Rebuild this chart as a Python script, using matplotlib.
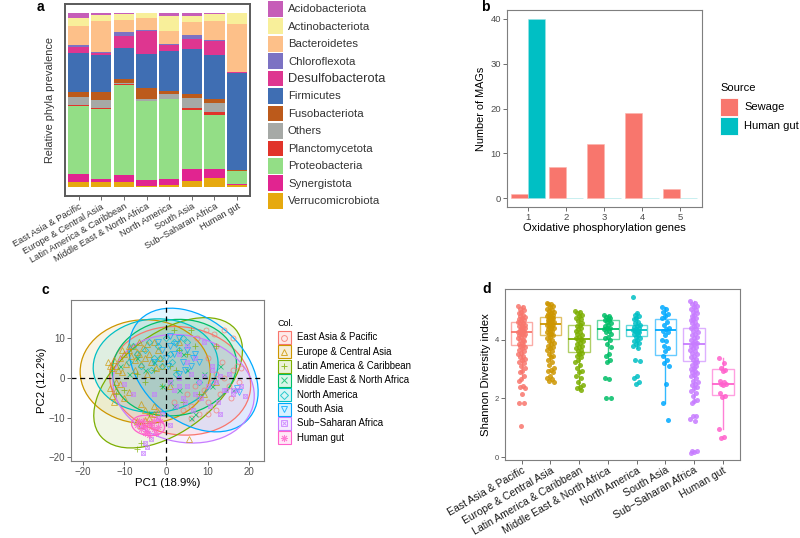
import numpy as np
import matplotlib
matplotlib.use('Agg')
import matplotlib.pyplot as plt
from matplotlib.patches import Ellipse, Rectangle
from matplotlib.lines import Line2D

plt.rcParams['font.family'] = ['Liberation Sans', 'DejaVu Sans']

W, H = 800, 538

# ---------------- data ----------------
regions = ['East Asia & Pacific', 'Europe & Central Asia', 'Latin America & Caribbean',
           'Middle East & North Africa', 'North America', 'South Asia',
           'Sub-Saharan Africa', 'Human gut']
region_colors = ['#F8766D', '#CD9600', '#7CAE00', '#00BE67', '#00BFC4', '#00A9FF', '#C77CFF', '#FF61CC']

# panel a: relative phyla prevalence per region (top of stack first)
phyla = ['Acidobacteriota', 'Actinobacteriota', 'Bacteroidetes', 'Chloroflexota',
         'Desulfobacterota', 'Firmicutes', 'Fusobacteriota', 'Others',
         'Planctomycetota', 'Proteobacteria', 'Synergistota', 'Verrucomicrobiota']
phyla_colors = ['#C65DB8', '#F8EF9A', '#FDC089', '#7C72C3', '#DE3690', '#3F6EB3',
                '#BC5A1B', '#A6A9A6', '#E1342A', '#93DE86', '#E12490', '#E6A90F']
acido    = [0.032, 0.011, 0.010, 0.000, 0.017, 0.021, 0.008, 0.000]
actino   = [0.046, 0.038, 0.029, 0.030, 0.088, 0.032, 0.042, 0.063]
bactero  = [0.110, 0.175, 0.074, 0.070, 0.072, 0.076, 0.105, 0.276]
chloro   = [0.008, 0.006, 0.021, 0.006, 0.010, 0.023, 0.008, 0.000]
desulfo  = [0.038, 0.015, 0.069, 0.128, 0.032, 0.057, 0.078, 0.008]
firmic   = [0.219, 0.208, 0.175, 0.200, 0.230, 0.259, 0.251, 0.554]
fuso     = [0.034, 0.048, 0.025, 0.061, 0.019, 0.019, 0.027, 0.004]
others   = [0.046, 0.044, 0.008, 0.010, 0.027, 0.061, 0.050, 0.000]
plancto  = [0.004, 0.008, 0.006, 0.000, 0.000, 0.008, 0.015, 0.000]
proteo   = [0.392, 0.402, 0.514, 0.453, 0.457, 0.337, 0.312, 0.078]
synerg   = [0.042, 0.017, 0.040, 0.036, 0.032, 0.070, 0.050, 0.002]
verruco  = [0.032, 0.029, 0.030, 0.006, 0.015, 0.036, 0.055, 0.015]
phyla_vals = [acido, actino, bactero, chloro, desulfo, firmic, fuso, others,
              plancto, proteo, synerg, verruco]

# panel b
ox_genes = [1, 2, 3, 4, 5]
sewage_mags = [1, 7, 12, 19, 2]
gut_mags = [40, 0, 0, 0, 0]

# panel c: PCA points per region
pca_x = {
    'East Asia & Pacific': [5, 6, 7, 8, 9, 10, 11, 12, 13, 14, 15, 16, 17, 18, 7.5, 9.5, 11.5, 13.5,
                            15.5, 17.5, 2, 4, 6, 8, 10, 12, 14, 16, 10, 12, -2, -4],
    'Europe & Central Asia': [-14, -13.5, -13, -12.5, -12, -12, -11.5, -11, -10.5, -10, -9.5, -9, -8.5,
                              -8, -7.5, -7, -6.5, -6, -5.5, -5, -4.5, -4, -3.5, -3, -2.5, -2, -1.5, -1,
                              -13.5, -13, -12.5, -12, -11, -10, -9, -6, -5, -4, -3, -7, -6, -5, -2, 1,
                              5.5, 9, 12, 3, -3, -9, -7.5, -10.5, -4.5, -6.5],
    'Latin America & Caribbean': [-7, -5, -3, -1, 1, 2, 3, 5, 7, 8, 6, -10, -12, 4, 2.5, -4, 12, -7, -6],
    'Middle East & North Africa': [-11, -9, -7, -5, -3, 1, 3, 5, 7, 9, 11, 13, 2, -1, 4, 6, 16],
    'North America': [-9, -7, -5, -4, -3, -2, -1, 0, 1, 2, 3, 4, -6, -8, -3.5, 1.5, 2.5, -1.5, 5, 8],
    'South Asia': [-2, -1, 0, 1, 2, 3, 4, 5, 6, 7, -3, 0.5, 2.5, 4.5, 6.5, 1, 3, 17, 17.5, 8],
    'Sub-Saharan Africa': [1, 2, 3, 4, 5, 6, 7, 8, 9, 10, 11, 12, 13, 14, 15, 16, 17, 18, 19, 2.5, 4.5,
                           6.5, 8.5, 10.5, 12.5, 14.5, 3, 5, 7, 9, 11, 13, 16, -1, -3, -2, 1, 3, 5,
                           -5, -4.5, -5.5, -3.5, -10, -8],
    'Human gut': [-7, -6, -5.5, -5, -4.5, -4, -3.5, -3, -2.5, -6.5, -5, -4, -3, -2, -1.5, -5.5],
}
pca_y = {
    'East Asia & Pacific': [-4, -7, -2, -9, -3, -6, -1, -8, -4, 0, -2, 2, 3, 2.5, 10, 12, 11, 4, -5, -1,
                            -6, -8, -10, -5, -9, 8, 12, 10, 5, 1, -8, -12],
    'Europe & Central Asia': [4, 3, 2.5, 4.5, 3, -1, 2, 5, 1.5, 6, 3.5, 7, 5.5, 8, 4.5, 6.5, 9, 3.5, 7.5,
                              5, 8.5, 6, 4, 9, 2.5, 7, 5, 3, -2.5, -4.5, -6, -3, -1.5, -5, -3.5, -6.5,
                              -8, -10, -9, -11, -12, -10.5, -8.5, -2, -15.5, -4, -1, 9, -7, 8, 2, 7,
                              1, 6],
    'Latin America & Caribbean': [1, -1, 2, -2, 3, 12, 7, 6, 8, -4, 12, -3, -4, -6, 2, -9, 8, -18, -16.5],
    'Middle East & North Africa': [3, 1, 5, 2, 4, -1, -3, 2, -9, 1, -2, 3, -7, -2, 6, -10, -3],
    'North America': [4, 6, 7, 9, 5, 8, 3, 10, 6, 9, 7, 10, 3, 8, 2, 4, 1, 5, 9, -1],
    'South Asia': [9, 7, 5, 8, 6, 10, 4, 7, 3, 6, 4, 3, 8.5, 2, 5, 10.5, 1, -2.5, -3.5, 4],
    'Sub-Saharan Africa': [-1, -3, 0, -5, -2, 1, -4, -1, 0.5, -2, 2, -1, 0.5, -3, 1, -4, -3, -2, -4.5,
                           -7, -6, -8, -5, -7, -6, -3, 6, 8, 5, 9, 3, -9, -3, -9, -4, -10, -12, -2,
                           4, -16.5, -17.5, -19, -15.5, -1.5, -4],
    'Human gut': [-12, -13, -11, -12.5, -13.5, -11.5, -12, -13, -14, -11, -14, -14.5, -11, -12.5, -11, -12],
}
# ellipse summary per region (centre, full width, full height, angle)
ell_cx = [3.4, -5.0, 0.5, 2.0, -2.5, 6.6, 4.2, -4.3]
ell_cy = [-0.8, 1.5, -1.3, 2.5, 3.0, 1.9, -2.8, -12.0]
ell_w = [34, 31.2, 42, 30, 30, 36, 34.4, 8]
ell_h = [27, 26, 24, 24, 23.4, 25, 26.6, 5]
ell_ang = [-10, 0, 40, 10, 5, -45, -15, -10]

# panel d: Shannon diversity per region
shannon = {
    'East Asia & Pacific': [5.15, 5.1, 5.05, 5.0, 4.95, 4.9, 4.85, 4.8, 4.78, 4.75, 4.7, 4.68, 4.65, 4.6,
                            4.58, 4.55, 4.5, 4.48, 4.45, 4.42, 4.4, 4.38, 4.35, 4.32, 4.3, 4.28, 4.27,
                            4.25, 4.22, 4.2, 4.18, 4.15, 4.12, 4.1, 4.05, 4.0, 3.98, 3.95, 3.9, 3.85,
                            3.82, 3.8, 3.75, 3.7, 3.65, 3.6, 3.55, 3.5, 3.45, 3.4, 3.35, 3.3, 3.25, 3.2,
                            3.1, 3.05, 2.95, 2.9, 2.75, 2.65, 2.6, 2.42, 2.38, 2.35, 2.15, 1.85, 1.83, 1.05],
    'Europe & Central Asia': [5.25, 5.22, 5.2, 5.15, 5.1, 5.05, 5.0, 4.98, 4.95, 4.9, 4.88, 4.85, 4.82,
                              4.8, 4.78, 4.75, 4.72, 4.7, 4.68, 4.65, 4.62, 4.6, 4.58, 4.55, 4.53, 4.5,
                              4.48, 4.45, 4.42, 4.4, 4.38, 4.35, 4.3, 4.28, 4.25, 4.2, 4.18, 4.15, 4.1,
                              4.05, 4.0, 3.95, 3.9, 3.85, 3.8, 3.75, 3.7, 3.65, 3.6, 3.5, 3.45, 3.4, 3.3,
                              3.25, 3.15, 3.05, 2.98, 2.95, 2.9, 2.75, 2.7, 2.65, 2.58, 2.55],
    'Latin America & Caribbean': [4.97, 4.95, 4.9, 4.85, 4.8, 4.75, 4.7, 4.62, 4.55, 4.5, 4.45, 4.4, 4.35,
                                  4.3, 4.25, 4.2, 4.15, 4.1, 4.05, 4.02, 4.0, 3.95, 3.9, 3.85, 3.8, 3.75,
                                  3.7, 3.65, 3.6, 3.55, 3.5, 3.45, 3.4, 3.3, 3.25, 3.15, 3.05, 2.95, 2.9,
                                  2.75, 2.7, 2.55, 2.45, 2.4, 2.35, 2.3],
    'Middle East & North Africa': [4.85, 4.8, 4.78, 4.75, 4.7, 4.68, 4.65, 4.6, 4.55, 4.5, 4.45, 4.4,
                                   4.38, 4.35, 4.3, 4.25, 4.2, 4.1, 4.05, 4.0, 3.85, 3.75, 3.5, 3.45,
                                   3.3, 3.25, 2.68, 2.66, 2.03, 2.02],
    'North America': [5.45, 4.9, 4.85, 4.8, 4.75, 4.7, 4.6, 4.55, 4.5, 4.45, 4.42, 4.4, 4.35, 4.32, 4.3,
                      4.28, 4.25, 4.22, 4.2, 4.15, 4.1, 4.05, 4.0, 3.95, 3.9, 3.85, 3.8, 3.7, 3.3, 3.28,
                      2.75, 2.68, 2.55, 2.5],
    'South Asia': [5.1, 5.05, 4.95, 4.88, 4.8, 4.72, 4.6, 4.5, 4.4, 4.35, 4.3, 4.25, 4.15, 4.0, 3.95, 3.8,
                   3.72, 3.6, 3.45, 3.3, 3.2, 3.1, 2.5, 1.85, 1.28],
    'Sub-Saharan Africa': [5.3, 5.25, 5.2, 5.15, 5.1, 5.05, 5.0, 4.95, 4.9, 4.85, 4.8, 4.75, 4.7, 4.65,
                           4.6, 4.55, 4.5, 4.45, 4.4, 4.35, 4.3, 4.25, 4.2, 4.15, 4.1, 4.05, 4.0, 3.95,
                           3.9, 3.87, 3.85, 3.8, 3.75, 3.7, 3.65, 3.6, 3.55, 3.5, 3.45, 3.4, 3.35, 3.3,
                           3.25, 3.2, 3.15, 3.1, 3.05, 3.0, 2.95, 2.9, 2.85, 2.8, 2.75, 2.7, 2.6, 2.55,
                           2.5, 2.45, 2.4, 2.35, 2.25, 2.2, 2.1, 1.95, 1.9, 1.85, 1.42, 1.4, 1.3, 1.25,
                           0.22, 0.2, 0.18, 0.16],
    'Human gut': [3.37, 3.22, 3.02, 2.98, 2.95, 2.6, 2.55, 2.5, 2.48, 2.45, 2.2, 2.1, 2.05, 0.98, 0.68, 0.67],
}
# box summaries
box_q1 = [3.81, 4.17, 3.58, 4.03, 4.12, 3.49, 3.29, 2.13]
box_med = [4.27, 4.53, 4.02, 4.36, 4.31, 4.33, 3.86, 2.49]
box_q3 = [4.60, 4.76, 4.51, 4.65, 4.49, 4.71, 4.41, 2.99]
box_lo = [2.65, 3.30, 2.30, 3.25, 3.70, 1.85, 1.85, 0.98]
box_hi = [5.15, 5.25, 4.97, 4.85, 4.90, 5.10, 5.30, 3.37]

TICK_C = '#4D4D4D'
SPINE_C = '#7F7F7F'


def fx(x):
    return x / W


def fy(y):
    return 1 - y / H


def rect(l, t, r, b):
    return [fx(l), fy(b), (r - l) / W, (b - t) / H]


def style_axis(ax, tsize):
    for s in ax.spines.values():
        s.set_color(SPINE_C)
        s.set_linewidth(0.8)
    ax.tick_params(length=2.8, width=0.5, color='#333333', labelcolor=TICK_C,
                   labelsize=tsize, pad=1.5)


fig = plt.figure(figsize=(8, 5.38), dpi=100)

# ---------------- panel a ----------------
axa = fig.add_axes(rect(65, 4, 250, 196))
xpos = np.arange(len(regions))
vals = np.array(phyla_vals)
vals = vals / vals.sum(axis=0)
bottom = np.zeros(len(regions))
for name, col, v in reversed(list(zip(phyla, phyla_colors, vals))):
    axa.bar(xpos, v, bottom=bottom, width=0.9, color=col, linewidth=0)
    bottom += v
axa.set_xlim(-0.6, 7.57)
axa.set_ylim(-0.05, 1.05)
axa.set_yticks([])
axa.set_xticks(xpos)
axa.set_xticklabels([r.replace('Sub-Saharan', 'Sub\u2212Saharan') for r in regions],
                    rotation=30, ha='right', va='top', rotation_mode='anchor')
style_axis(axa, 6.7)
axa.tick_params(axis='x', labelcolor='#333333')
for s in axa.spines.values():
    s.set_color('#5A5A5A')
    s.set_linewidth(1.4)
axa.set_ylabel('Relative phyla prevalence', fontsize=7.8, color='#333333', labelpad=7)

for i, (name, col) in enumerate(zip(phyla, phyla_colors)):
    t = 1 + i * 17.45
    fig.add_artist(Rectangle((fx(267.5), fy(t + 15.7)), 15.3 / W, 15.7 / H,
                             transform=fig.transFigure, facecolor=col, edgecolor='none'))
    fig.text(fx(288), fy(t + 8.2), name, fontsize=9.3 if name == 'Desulfobacterota' else 8.2,
             va='center', ha='left', color='#333333')

# ---------------- panel b ----------------
axb = fig.add_axes(rect(507, 10, 702, 207))
gx = np.array(ox_genes)
axb.bar(gx - 0.225, sewage_mags, width=0.45, color='#F8766D', edgecolor='#FBB3AD', linewidth=0.4)
axb.bar(gx + 0.225, gut_mags, width=0.45, color='#00BFC4', edgecolor='#9FE3E5', linewidth=0.4)
axb.set_xlim(0.44, 5.58)
axb.set_ylim(-2, 42)
axb.set_yticks([0, 10, 20, 30, 40])
axb.set_xticks(ox_genes)
style_axis(axb, 6.8)
axb.set_xlabel('Oxidative phosphorylation genes', fontsize=8, labelpad=1)
axb.set_ylabel('Number of MAGs', fontsize=7.8, labelpad=3)

fig.text(fx(720), fy(88), 'Source', fontsize=8, va='center', ha='left')
for i, (lab, col) in enumerate([('Sewage', '#F8766D'), ('Human gut', '#00BFC4')]):
    t = 98 + i * 19
    fig.add_artist(Rectangle((fx(720), fy(t + 18)), 18 / W, 18 / H,
                             transform=fig.transFigure, facecolor=col, edgecolor='white', linewidth=0.6))
    fig.text(fx(744), fy(t + 9), lab, fontsize=8, va='center', ha='left')

# ---------------- panel c ----------------
axc = fig.add_axes(rect(71, 300, 264, 461))
markers = ['o', '^', '+', 'x', 'D', 'v', 's', (8, 2, 0)]
msizes = [3.6, 3.8, 4.2, 3.6, 3.2, 3.8, 3.4, 4.4]
for i, reg in enumerate(regions):
    col = region_colors[i]
    axc.add_patch(Ellipse((ell_cx[i], ell_cy[i]), ell_w[i], ell_h[i], angle=ell_ang[i],
                          facecolor=col, alpha=0.1, edgecolor='none'))
for i, reg in enumerate(regions):
    col = region_colors[i]
    mk = markers[i]
    axc.plot(pca_x[reg], pca_y[reg], linestyle='none', marker=mk, markersize=msizes[i],
             markerfacecolor='none', markeredgecolor=col, markeredgewidth=0.6, alpha=0.75)
    if reg == 'Sub-Saharan Africa':
        axc.plot(pca_x[reg], pca_y[reg], linestyle='none', marker='x', markersize=2.6,
                 markeredgecolor=col, markeredgewidth=0.6, alpha=0.75)
for i, reg in enumerate(regions):
    axc.add_patch(Ellipse((ell_cx[i], ell_cy[i]), ell_w[i], ell_h[i], angle=ell_ang[i],
                          facecolor='none', edgecolor=region_colors[i], linewidth=0.9))
axc.axhline(0, color='black', linestyle=(0, (4, 3)), linewidth=0.9)
axc.axvline(0, color='black', linestyle=(0, (4, 3)), linewidth=0.9)
axc.set_xlim(-22.8, 23.5)
axc.set_ylim(-20.9, 19.45)
axc.set_xticks([-20, -10, 0, 10, 20])
axc.set_yticks([-20, -10, 0, 10])
style_axis(axc, 7)
axc.set_xlabel('PC1 (18.9%)', fontsize=8.2, labelpad=1)
axc.set_ylabel('PC2 (12.2%)', fontsize=8.2, labelpad=1)

fig.text(fx(278), fy(323), 'Col.', fontsize=6.5, va='center', ha='left')
for i, reg in enumerate(regions):
    cy = 337.5 + i * 14.3
    col = region_colors[i]
    fig.add_artist(Rectangle((fx(277.5), fy(cy + 6.5)), 13 / W, 13 / H, transform=fig.transFigure,
                             facecolor=col, alpha=0.15, edgecolor='none'))
    fig.add_artist(Rectangle((fx(277.5), fy(cy + 6.5)), 13 / W, 13 / H, transform=fig.transFigure,
                             facecolor='none', edgecolor=col, linewidth=0.8))
    fig.add_artist(Line2D([fx(284)], [fy(cy)], transform=fig.transFigure, marker=markers[i],
                          markersize=msizes[i] + 0.6, markerfacecolor='none', markeredgecolor=col,
                          markeredgewidth=0.7, alpha=0.8))
    if reg == 'Sub-Saharan Africa':
        fig.add_artist(Line2D([fx(284)], [fy(cy)], transform=fig.transFigure, marker='x',
                              markersize=3, markeredgecolor=col, markeredgewidth=0.7, alpha=0.8))
    fig.text(fx(297), fy(cy), reg.replace('Sub-Saharan', 'Sub\u2212Saharan'), fontsize=6.9,
             va='center', ha='left')

# ---------------- panel d ----------------
axd = fig.add_axes(rect(505, 289, 740, 460))
stats = []
for i in range(len(regions)):
    stats.append(dict(med=box_med[i], q1=box_q1[i], q3=box_q3[i],
                      whislo=box_lo[i], whishi=box_hi[i], fliers=[]))
pos = np.arange(1, len(regions) + 1)
bp = axd.bxp(stats, positions=pos, widths=0.75, showfliers=False, showcaps=False,
             patch_artist=True)
for i, col in enumerate(region_colors):
    bp['boxes'][i].set(facecolor='white', edgecolor=col, alpha=0.6, linewidth=1.0)
    bp['medians'][i].set(color=col, linewidth=1.3)
    for w in bp['whiskers'][2 * i:2 * i + 2]:
        w.set(color=col, linewidth=1.0, alpha=0.8)
for i, reg in enumerate(regions):
    v = np.array(shannon[reg])
    jit = ((np.arange(len(v)) * 0.618034) % 1 - 0.5) * 0.26
    axd.scatter(pos[i] + jit, v, s=13, color=region_colors[i], alpha=0.85, linewidths=0, zorder=3)
axd.set_xlim(0.42, 8.6)
axd.set_ylim(-0.09, 5.72)
axd.set_yticks([0, 2, 4])
axd.set_xticks(pos)
axd.set_xticklabels([r.replace('Sub-Saharan', 'Sub\u2212Saharan') for r in regions],
                    rotation=30, ha='right', va='top', rotation_mode='anchor')
style_axis(axd, 7.6)
axd.tick_params(axis='x', labelcolor='#1A1A1A', pad=1)
axd.tick_params(axis='y', labelsize=5.5)
axd.set_ylabel('Shannon Diversity index', fontsize=8.2, labelpad=3)

# panel letters
for lab, x, y in [('a', 37, 7), ('b', 481, 7), ('c', 42, 290), ('d', 482, 289)]:
    fig.text(fx(x), fy(y), lab, fontsize=10, fontweight='bold', va='center', ha='left')

fig.savefig('out.png', dpi=100)
